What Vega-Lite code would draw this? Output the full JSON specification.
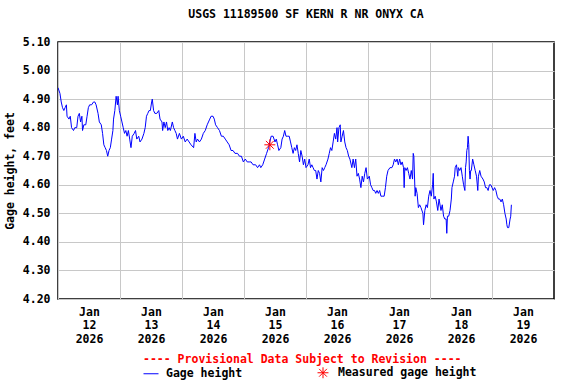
{
  "$schema": "https://vega.github.io/schema/vega-lite/v6.json",
  "width": 496,
  "height": 257,
  "autosize": "none",
  "padding": {"left": 58, "top": 42, "right": 22, "bottom": 85},
  "background": "white",
  "title": {"text": "USGS 11189500 SF KERN R NR ONYX CA", "fontSize": 11.5, "font": "DejaVu Sans Mono", "fontWeight": "bold", "color": "black", "anchor": "middle", "offset": 16},
  "datasets": {
    "gage": [
      {"time": "2026-01-12T00:00", "height": 4.94},
      {"time": "2026-01-12T00:45", "height": 4.92},
      {"time": "2026-01-12T01:15", "height": 4.89},
      {"time": "2026-01-12T01:45", "height": 4.87},
      {"time": "2026-01-12T02:15", "height": 4.86},
      {"time": "2026-01-12T02:45", "height": 4.87},
      {"time": "2026-01-12T03:15", "height": 4.88},
      {"time": "2026-01-12T03:30", "height": 4.84},
      {"time": "2026-01-12T04:15", "height": 4.83},
      {"time": "2026-01-12T04:45", "height": 4.84},
      {"time": "2026-01-12T05:15", "height": 4.80},
      {"time": "2026-01-12T06:00", "height": 4.79},
      {"time": "2026-01-12T06:30", "height": 4.80},
      {"time": "2026-01-12T07:15", "height": 4.80},
      {"time": "2026-01-12T07:45", "height": 4.84},
      {"time": "2026-01-12T08:15", "height": 4.85},
      {"time": "2026-01-12T08:45", "height": 4.82},
      {"time": "2026-01-12T09:15", "height": 4.84},
      {"time": "2026-01-12T09:30", "height": 4.79},
      {"time": "2026-01-12T10:00", "height": 4.81},
      {"time": "2026-01-12T10:45", "height": 4.81},
      {"time": "2026-01-12T11:15", "height": 4.84},
      {"time": "2026-01-12T11:45", "height": 4.87},
      {"time": "2026-01-12T12:15", "height": 4.88},
      {"time": "2026-01-12T13:00", "height": 4.88},
      {"time": "2026-01-12T13:45", "height": 4.89},
      {"time": "2026-01-12T14:15", "height": 4.89},
      {"time": "2026-01-12T14:45", "height": 4.88},
      {"time": "2026-01-12T15:30", "height": 4.85},
      {"time": "2026-01-12T16:00", "height": 4.82},
      {"time": "2026-01-12T16:45", "height": 4.81},
      {"time": "2026-01-12T17:15", "height": 4.78},
      {"time": "2026-01-12T17:45", "height": 4.74},
      {"time": "2026-01-12T18:15", "height": 4.73},
      {"time": "2026-01-12T18:45", "height": 4.72},
      {"time": "2026-01-12T19:15", "height": 4.70},
      {"time": "2026-01-12T19:45", "height": 4.72},
      {"time": "2026-01-12T20:15", "height": 4.73},
      {"time": "2026-01-12T20:45", "height": 4.76},
      {"time": "2026-01-12T21:15", "height": 4.79},
      {"time": "2026-01-12T21:30", "height": 4.83},
      {"time": "2026-01-12T22:00", "height": 4.86},
      {"time": "2026-01-12T22:30", "height": 4.91},
      {"time": "2026-01-12T23:00", "height": 4.88},
      {"time": "2026-01-12T23:15", "height": 4.91},
      {"time": "2026-01-12T23:45", "height": 4.86},
      {"time": "2026-01-13T00:15", "height": 4.84},
      {"time": "2026-01-13T00:45", "height": 4.82},
      {"time": "2026-01-13T01:15", "height": 4.80},
      {"time": "2026-01-13T01:45", "height": 4.78},
      {"time": "2026-01-13T02:15", "height": 4.79},
      {"time": "2026-01-13T02:45", "height": 4.77},
      {"time": "2026-01-13T03:15", "height": 4.79},
      {"time": "2026-01-13T03:45", "height": 4.76},
      {"time": "2026-01-13T04:15", "height": 4.73},
      {"time": "2026-01-13T04:45", "height": 4.77},
      {"time": "2026-01-13T05:30", "height": 4.78},
      {"time": "2026-01-13T06:00", "height": 4.79},
      {"time": "2026-01-13T06:30", "height": 4.76},
      {"time": "2026-01-13T07:15", "height": 4.77},
      {"time": "2026-01-13T07:45", "height": 4.75},
      {"time": "2026-01-13T08:30", "height": 4.76},
      {"time": "2026-01-13T09:15", "height": 4.78},
      {"time": "2026-01-13T09:45", "height": 4.80},
      {"time": "2026-01-13T10:15", "height": 4.84},
      {"time": "2026-01-13T10:45", "height": 4.85},
      {"time": "2026-01-13T11:15", "height": 4.86},
      {"time": "2026-01-13T11:45", "height": 4.86},
      {"time": "2026-01-13T12:15", "height": 4.89},
      {"time": "2026-01-13T12:30", "height": 4.90},
      {"time": "2026-01-13T13:00", "height": 4.86},
      {"time": "2026-01-13T13:30", "height": 4.85},
      {"time": "2026-01-13T14:15", "height": 4.85},
      {"time": "2026-01-13T15:00", "height": 4.86},
      {"time": "2026-01-13T15:30", "height": 4.83},
      {"time": "2026-01-13T16:15", "height": 4.82},
      {"time": "2026-01-13T16:30", "height": 4.79},
      {"time": "2026-01-13T17:00", "height": 4.82},
      {"time": "2026-01-13T17:30", "height": 4.80},
      {"time": "2026-01-13T18:00", "height": 4.82},
      {"time": "2026-01-13T18:30", "height": 4.79},
      {"time": "2026-01-13T19:00", "height": 4.80},
      {"time": "2026-01-13T19:30", "height": 4.79},
      {"time": "2026-01-13T20:15", "height": 4.82},
      {"time": "2026-01-13T20:45", "height": 4.80},
      {"time": "2026-01-13T21:15", "height": 4.79},
      {"time": "2026-01-13T21:45", "height": 4.78},
      {"time": "2026-01-13T22:15", "height": 4.76},
      {"time": "2026-01-13T23:00", "height": 4.78},
      {"time": "2026-01-13T23:45", "height": 4.76},
      {"time": "2026-01-14T00:30", "height": 4.77},
      {"time": "2026-01-14T01:15", "height": 4.75},
      {"time": "2026-01-14T02:00", "height": 4.76},
      {"time": "2026-01-14T02:45", "height": 4.75},
      {"time": "2026-01-14T03:30", "height": 4.74},
      {"time": "2026-01-14T04:30", "height": 4.73},
      {"time": "2026-01-14T05:00", "height": 4.78},
      {"time": "2026-01-14T05:30", "height": 4.75},
      {"time": "2026-01-14T06:00", "height": 4.76},
      {"time": "2026-01-14T06:45", "height": 4.75},
      {"time": "2026-01-14T07:30", "height": 4.76},
      {"time": "2026-01-14T08:15", "height": 4.78},
      {"time": "2026-01-14T09:00", "height": 4.79},
      {"time": "2026-01-14T09:45", "height": 4.81},
      {"time": "2026-01-14T10:15", "height": 4.82},
      {"time": "2026-01-14T10:45", "height": 4.83},
      {"time": "2026-01-14T11:15", "height": 4.84},
      {"time": "2026-01-14T12:00", "height": 4.84},
      {"time": "2026-01-14T12:30", "height": 4.83},
      {"time": "2026-01-14T13:00", "height": 4.81},
      {"time": "2026-01-14T13:45", "height": 4.80},
      {"time": "2026-01-14T14:30", "height": 4.79},
      {"time": "2026-01-14T15:15", "height": 4.77},
      {"time": "2026-01-14T16:00", "height": 4.77},
      {"time": "2026-01-14T16:45", "height": 4.76},
      {"time": "2026-01-14T17:30", "height": 4.75},
      {"time": "2026-01-14T18:15", "height": 4.74},
      {"time": "2026-01-14T19:00", "height": 4.72},
      {"time": "2026-01-14T19:45", "height": 4.72},
      {"time": "2026-01-14T20:30", "height": 4.71},
      {"time": "2026-01-14T21:30", "height": 4.71},
      {"time": "2026-01-14T22:15", "height": 4.70},
      {"time": "2026-01-14T23:00", "height": 4.70},
      {"time": "2026-01-14T23:45", "height": 4.68},
      {"time": "2026-01-15T00:30", "height": 4.69},
      {"time": "2026-01-15T01:15", "height": 4.68},
      {"time": "2026-01-15T02:00", "height": 4.68},
      {"time": "2026-01-15T02:45", "height": 4.68},
      {"time": "2026-01-15T03:30", "height": 4.67},
      {"time": "2026-01-15T04:30", "height": 4.67},
      {"time": "2026-01-15T05:15", "height": 4.66},
      {"time": "2026-01-15T06:00", "height": 4.67},
      {"time": "2026-01-15T06:30", "height": 4.66},
      {"time": "2026-01-15T07:15", "height": 4.67},
      {"time": "2026-01-15T08:00", "height": 4.69},
      {"time": "2026-01-15T08:45", "height": 4.71},
      {"time": "2026-01-15T09:30", "height": 4.73},
      {"time": "2026-01-15T10:00", "height": 4.75},
      {"time": "2026-01-15T10:30", "height": 4.77},
      {"time": "2026-01-15T11:15", "height": 4.77},
      {"time": "2026-01-15T12:00", "height": 4.75},
      {"time": "2026-01-15T12:30", "height": 4.76},
      {"time": "2026-01-15T13:00", "height": 4.74},
      {"time": "2026-01-15T13:30", "height": 4.72},
      {"time": "2026-01-15T14:15", "height": 4.73},
      {"time": "2026-01-15T14:45", "height": 4.76},
      {"time": "2026-01-15T15:15", "height": 4.77},
      {"time": "2026-01-15T15:45", "height": 4.79},
      {"time": "2026-01-15T16:15", "height": 4.77},
      {"time": "2026-01-15T16:45", "height": 4.77},
      {"time": "2026-01-15T17:30", "height": 4.77},
      {"time": "2026-01-15T18:00", "height": 4.75},
      {"time": "2026-01-15T18:30", "height": 4.73},
      {"time": "2026-01-15T19:00", "height": 4.71},
      {"time": "2026-01-15T19:30", "height": 4.73},
      {"time": "2026-01-15T20:00", "height": 4.72},
      {"time": "2026-01-15T20:30", "height": 4.74},
      {"time": "2026-01-15T21:00", "height": 4.71},
      {"time": "2026-01-15T21:30", "height": 4.68},
      {"time": "2026-01-15T22:00", "height": 4.72},
      {"time": "2026-01-15T22:30", "height": 4.70},
      {"time": "2026-01-15T23:00", "height": 4.67},
      {"time": "2026-01-15T23:30", "height": 4.69},
      {"time": "2026-01-16T00:00", "height": 4.66},
      {"time": "2026-01-16T00:45", "height": 4.67},
      {"time": "2026-01-16T01:15", "height": 4.69},
      {"time": "2026-01-16T01:45", "height": 4.66},
      {"time": "2026-01-16T02:15", "height": 4.67},
      {"time": "2026-01-16T02:45", "height": 4.66},
      {"time": "2026-01-16T03:15", "height": 4.65},
      {"time": "2026-01-16T03:45", "height": 4.65},
      {"time": "2026-01-16T04:15", "height": 4.62},
      {"time": "2026-01-16T04:45", "height": 4.65},
      {"time": "2026-01-16T05:15", "height": 4.64},
      {"time": "2026-01-16T05:45", "height": 4.61},
      {"time": "2026-01-16T06:15", "height": 4.66},
      {"time": "2026-01-16T06:45", "height": 4.65},
      {"time": "2026-01-16T07:15", "height": 4.66},
      {"time": "2026-01-16T07:45", "height": 4.67},
      {"time": "2026-01-16T08:30", "height": 4.69},
      {"time": "2026-01-16T09:00", "height": 4.71},
      {"time": "2026-01-16T09:30", "height": 4.73},
      {"time": "2026-01-16T10:00", "height": 4.72},
      {"time": "2026-01-16T10:30", "height": 4.75},
      {"time": "2026-01-16T11:00", "height": 4.78},
      {"time": "2026-01-16T11:30", "height": 4.76},
      {"time": "2026-01-16T12:00", "height": 4.80},
      {"time": "2026-01-16T12:15", "height": 4.75},
      {"time": "2026-01-16T12:45", "height": 4.80},
      {"time": "2026-01-16T13:15", "height": 4.81},
      {"time": "2026-01-16T13:30", "height": 4.75},
      {"time": "2026-01-16T14:00", "height": 4.77},
      {"time": "2026-01-16T14:30", "height": 4.79},
      {"time": "2026-01-16T15:00", "height": 4.75},
      {"time": "2026-01-16T15:30", "height": 4.73},
      {"time": "2026-01-16T16:00", "height": 4.72},
      {"time": "2026-01-16T16:30", "height": 4.70},
      {"time": "2026-01-16T17:00", "height": 4.69},
      {"time": "2026-01-16T17:45", "height": 4.66},
      {"time": "2026-01-16T18:15", "height": 4.69},
      {"time": "2026-01-16T18:45", "height": 4.66},
      {"time": "2026-01-16T19:15", "height": 4.69},
      {"time": "2026-01-16T19:45", "height": 4.63},
      {"time": "2026-01-16T20:15", "height": 4.64},
      {"time": "2026-01-16T20:45", "height": 4.62},
      {"time": "2026-01-16T21:15", "height": 4.59},
      {"time": "2026-01-16T21:45", "height": 4.63},
      {"time": "2026-01-16T22:15", "height": 4.61},
      {"time": "2026-01-16T22:45", "height": 4.64},
      {"time": "2026-01-16T23:15", "height": 4.66},
      {"time": "2026-01-16T23:45", "height": 4.62},
      {"time": "2026-01-17T00:30", "height": 4.63},
      {"time": "2026-01-17T01:00", "height": 4.60},
      {"time": "2026-01-17T01:30", "height": 4.59},
      {"time": "2026-01-17T02:00", "height": 4.58},
      {"time": "2026-01-17T02:30", "height": 4.58},
      {"time": "2026-01-17T03:00", "height": 4.57},
      {"time": "2026-01-17T03:30", "height": 4.58},
      {"time": "2026-01-17T04:00", "height": 4.57},
      {"time": "2026-01-17T04:30", "height": 4.58},
      {"time": "2026-01-17T05:00", "height": 4.56},
      {"time": "2026-01-17T05:30", "height": 4.56},
      {"time": "2026-01-17T06:15", "height": 4.56},
      {"time": "2026-01-17T06:45", "height": 4.59},
      {"time": "2026-01-17T07:15", "height": 4.63},
      {"time": "2026-01-17T07:45", "height": 4.65},
      {"time": "2026-01-17T08:30", "height": 4.66},
      {"time": "2026-01-17T09:15", "height": 4.66},
      {"time": "2026-01-17T09:45", "height": 4.67},
      {"time": "2026-01-17T10:15", "height": 4.69},
      {"time": "2026-01-17T10:45", "height": 4.68},
      {"time": "2026-01-17T11:15", "height": 4.69},
      {"time": "2026-01-17T11:45", "height": 4.67},
      {"time": "2026-01-17T12:15", "height": 4.69},
      {"time": "2026-01-17T12:45", "height": 4.67},
      {"time": "2026-01-17T13:15", "height": 4.68},
      {"time": "2026-01-17T13:45", "height": 4.66},
      {"time": "2026-01-17T14:00", "height": 4.59},
      {"time": "2026-01-17T14:15", "height": 4.66},
      {"time": "2026-01-17T14:45", "height": 4.65},
      {"time": "2026-01-17T15:15", "height": 4.66},
      {"time": "2026-01-17T15:45", "height": 4.64},
      {"time": "2026-01-17T16:15", "height": 4.62},
      {"time": "2026-01-17T16:45", "height": 4.65},
      {"time": "2026-01-17T17:15", "height": 4.62},
      {"time": "2026-01-17T17:30", "height": 4.71},
      {"time": "2026-01-17T17:45", "height": 4.70},
      {"time": "2026-01-17T18:15", "height": 4.56},
      {"time": "2026-01-17T18:30", "height": 4.59},
      {"time": "2026-01-17T19:00", "height": 4.57},
      {"time": "2026-01-17T19:30", "height": 4.52},
      {"time": "2026-01-17T20:00", "height": 4.53},
      {"time": "2026-01-17T20:30", "height": 4.52},
      {"time": "2026-01-17T21:15", "height": 4.50},
      {"time": "2026-01-17T21:30", "height": 4.46},
      {"time": "2026-01-17T22:00", "height": 4.51},
      {"time": "2026-01-17T22:30", "height": 4.53},
      {"time": "2026-01-17T23:00", "height": 4.52},
      {"time": "2026-01-17T23:30", "height": 4.56},
      {"time": "2026-01-18T00:00", "height": 4.58},
      {"time": "2026-01-18T00:30", "height": 4.56},
      {"time": "2026-01-18T01:00", "height": 4.60},
      {"time": "2026-01-18T01:15", "height": 4.64},
      {"time": "2026-01-18T01:30", "height": 4.55},
      {"time": "2026-01-18T02:00", "height": 4.56},
      {"time": "2026-01-18T02:30", "height": 4.54},
      {"time": "2026-01-18T03:00", "height": 4.51},
      {"time": "2026-01-18T03:30", "height": 4.55},
      {"time": "2026-01-18T04:15", "height": 4.51},
      {"time": "2026-01-18T04:45", "height": 4.53},
      {"time": "2026-01-18T05:15", "height": 4.49},
      {"time": "2026-01-18T05:45", "height": 4.48},
      {"time": "2026-01-18T06:15", "height": 4.48},
      {"time": "2026-01-18T06:30", "height": 4.43},
      {"time": "2026-01-18T06:45", "height": 4.49},
      {"time": "2026-01-18T07:15", "height": 4.49},
      {"time": "2026-01-18T07:45", "height": 4.51},
      {"time": "2026-01-18T08:15", "height": 4.55},
      {"time": "2026-01-18T08:30", "height": 4.59},
      {"time": "2026-01-18T09:00", "height": 4.61},
      {"time": "2026-01-18T09:30", "height": 4.63},
      {"time": "2026-01-18T09:45", "height": 4.66},
      {"time": "2026-01-18T10:15", "height": 4.67},
      {"time": "2026-01-18T10:45", "height": 4.63},
      {"time": "2026-01-18T11:00", "height": 4.66},
      {"time": "2026-01-18T11:30", "height": 4.65},
      {"time": "2026-01-18T12:00", "height": 4.66},
      {"time": "2026-01-18T12:30", "height": 4.63},
      {"time": "2026-01-18T13:00", "height": 4.60},
      {"time": "2026-01-18T13:30", "height": 4.58},
      {"time": "2026-01-18T13:45", "height": 4.66},
      {"time": "2026-01-18T14:00", "height": 4.68},
      {"time": "2026-01-18T14:15", "height": 4.72},
      {"time": "2026-01-18T14:30", "height": 4.73},
      {"time": "2026-01-18T14:45", "height": 4.77},
      {"time": "2026-01-18T15:00", "height": 4.74},
      {"time": "2026-01-18T15:15", "height": 4.65},
      {"time": "2026-01-18T15:30", "height": 4.62},
      {"time": "2026-01-18T15:45", "height": 4.65},
      {"time": "2026-01-18T16:00", "height": 4.65},
      {"time": "2026-01-18T16:30", "height": 4.69},
      {"time": "2026-01-18T17:00", "height": 4.67},
      {"time": "2026-01-18T17:30", "height": 4.65},
      {"time": "2026-01-18T18:00", "height": 4.63},
      {"time": "2026-01-18T18:30", "height": 4.58},
      {"time": "2026-01-18T18:45", "height": 4.63},
      {"time": "2026-01-18T19:15", "height": 4.65},
      {"time": "2026-01-18T19:45", "height": 4.63},
      {"time": "2026-01-18T20:30", "height": 4.62},
      {"time": "2026-01-18T21:00", "height": 4.61},
      {"time": "2026-01-18T21:30", "height": 4.59},
      {"time": "2026-01-18T22:00", "height": 4.59},
      {"time": "2026-01-18T22:30", "height": 4.58},
      {"time": "2026-01-18T23:00", "height": 4.60},
      {"time": "2026-01-18T23:30", "height": 4.60},
      {"time": "2026-01-19T00:00", "height": 4.59},
      {"time": "2026-01-19T00:30", "height": 4.58},
      {"time": "2026-01-19T01:00", "height": 4.59},
      {"time": "2026-01-19T01:30", "height": 4.58},
      {"time": "2026-01-19T02:00", "height": 4.56},
      {"time": "2026-01-19T02:30", "height": 4.55},
      {"time": "2026-01-19T03:00", "height": 4.55},
      {"time": "2026-01-19T03:30", "height": 4.54},
      {"time": "2026-01-19T04:00", "height": 4.55},
      {"time": "2026-01-19T04:30", "height": 4.53},
      {"time": "2026-01-19T05:00", "height": 4.50},
      {"time": "2026-01-19T05:30", "height": 4.48},
      {"time": "2026-01-19T05:45", "height": 4.46},
      {"time": "2026-01-19T06:00", "height": 4.45},
      {"time": "2026-01-19T06:30", "height": 4.45},
      {"time": "2026-01-19T07:00", "height": 4.48},
      {"time": "2026-01-19T07:15", "height": 4.49},
      {"time": "2026-01-19T07:30", "height": 4.53}
    ],
    "measured": [
      {"time": "2026-01-15T10:00", "height": 4.74, "series": "Measured gage height"}
    ]
  },
  "encoding": {
    "x": {
      "field": "time", "type": "temporal",
      "scale": {"domain": [{"year": 2026, "month": 1, "date": 12}, {"year": 2026, "month": 1, "date": 20}]},
      "axis": {
        "title": null,
        "values": [
          {"year": 2026, "month": 1, "date": 12}, {"year": 2026, "month": 1, "date": 13},
          {"year": 2026, "month": 1, "date": 14}, {"year": 2026, "month": 1, "date": 15},
          {"year": 2026, "month": 1, "date": 16}, {"year": 2026, "month": 1, "date": 17},
          {"year": 2026, "month": 1, "date": 18}, {"year": 2026, "month": 1, "date": 19}
        ],
        "grid": true, "ticks": false, "domain": false,
        "labelOffset": 31,
        "labelExpr": "[timeFormat(datum.value, '%b'), timeFormat(datum.value, '%d'), timeFormat(datum.value, '%Y')]",
        "labelPadding": 7, "labelLineHeight": 13.5, "labelBaseline": "top", "labelAlign": "center",
        "labelFlush": false, "labelOverlap": false, "labelBound": false
      }
    },
    "y": {
      "field": "height", "type": "quantitative",
      "scale": {"domain": [4.2, 5.1], "nice": false, "zero": false},
      "axis": {
        "title": "Gage height, feet",
        "values": [4.2, 4.3, 4.4, 4.5, 4.6, 4.7, 4.8, 4.9, 5.0, 5.1],
        "tickCount": 10,
        "format": ".2f",
        "grid": true, "ticks": false, "domain": false,
        "labelPadding": 8, "titlePadding": 7, "labelOverlap": false, "labelFlush": false, "labelBound": false
      }
    }
  },
  "layer": [
    {
      "data": {"name": "gage"},
      "mark": {"type": "line", "color": "#0000ff", "strokeWidth": 1, "clip": true}
    },
    {
      "data": {"name": "measured"},
      "mark": {"type": "point", "filled": false, "strokeWidth": 1, "size": 225, "opacity": 1},
      "encoding": {
        "color": {
          "field": "series", "type": "nominal",
          "scale": {"domain": ["Gage height", "Measured gage height"], "range": ["#0000ff", "#ff0000"]},
          "legend": {
            "title": "---- Provisional Data Subject to Revision ----",
            "orient": "none", "legendX": 85, "legendY": 312,
            "direction": "horizontal", "columns": 2, "columnPadding": 72,
            "symbolSize": 225, "symbolStrokeWidth": 1, "labelOffset": 7,
            "titleColor": "#ff0000", "titleFontSize": 11.5, "titleFontWeight": "bold", "titleLimit": 500,
            "labelFontSize": 11.5, "labelFontWeight": "bold", "labelColor": "black",
            "titleAnchor": "start", "titlePadding": -1, "padding": 0
          }
        },
        "shape": {
          "field": "series", "type": "nominal",
          "scale": {"domain": ["Gage height", "Measured gage height"], "range": ["stroke", "M-0.73,0L0.73,0M0,-0.73L0,0.73M-0.52,-0.52L0.52,0.52M-0.52,0.52L0.52,-0.52"]},
          "legend": {
            "title": "---- Provisional Data Subject to Revision ----",
            "orient": "none", "legendX": 85, "legendY": 312,
            "direction": "horizontal", "columns": 2, "columnPadding": 72,
            "symbolSize": 225, "symbolStrokeWidth": 1, "labelOffset": 7,
            "titleColor": "#ff0000", "titleFontSize": 11.5, "titleFontWeight": "bold", "titleLimit": 500,
            "labelFontSize": 11.5, "labelFontWeight": "bold", "labelColor": "black",
            "titleAnchor": "start", "titlePadding": -1, "padding": 0
          }
        }
      }
    }
  ],
  "config": {
    "font": "DejaVu Sans Mono",
    "view": {"stroke": "black", "strokeWidth": 1.5},
    "axis": {
      "gridColor": "#c8c8c8", "gridWidth": 1, "gridOpacity": 1,
      "labelFont": "DejaVu Sans Mono", "labelFontSize": 11.5, "labelFontWeight": "bold", "labelColor": "black",
      "titleFont": "DejaVu Sans Mono", "titleFontSize": 11.5, "titleFontWeight": "bold", "titleColor": "black"
    },
    "legend": {"labelFont": "DejaVu Sans Mono", "titleFont": "DejaVu Sans Mono"}
  }
}
